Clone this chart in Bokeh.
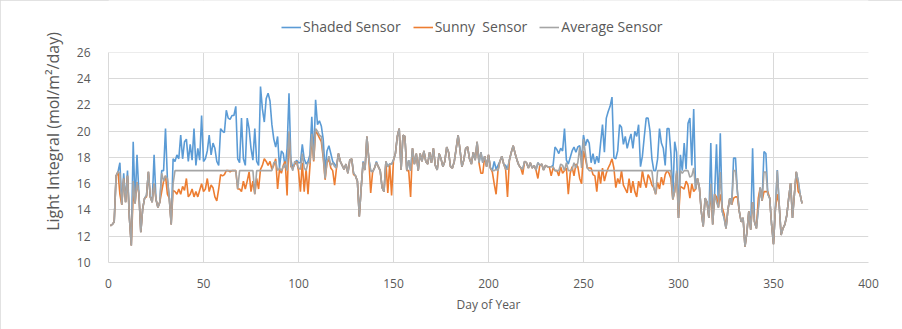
from bokeh.plotting import figure
from bokeh.models import Range1d, Legend, LegendItem, FixedTicker, BoxAnnotation
from bokeh.embed import file_html
from bokeh.resources import INLINE

days = list(range(1, 366))

average = [
    12.8, 12.9, 13.1, 16.6, 16.9, 16.8, 14.4, 16.4, 14.6, 16.6,
    13.4, 11.3, 16.2, 14.5, 16.1, 15.3, 12.3, 14.1, 14.9, 15.1,
    16.9, 15.0, 14.6, 16.0, 14.8, 14.2, 14.6, 16.8, 16.2, 16.6,
    16.4, 14.9, 12.9, 16.0, 17.0, 17.0, 17.0, 17.0, 17.0, 17.0,
    17.0, 17.0, 17.0, 17.0, 17.0, 17.0, 17.0, 17.0, 17.0, 17.0,
    17.0, 17.0, 17.0, 17.0, 17.0, 17.0, 17.0, 17.0, 17.0, 17.0,
    17.0, 17.0, 17.0, 17.0, 17.0, 17.0, 17.0, 15.6, 17.0, 17.0,
    17.0, 17.0, 17.0, 17.0, 17.0, 17.0, 15.2, 17.0, 17.0, 17.0,
    17.0, 17.0, 17.0, 17.0, 17.0, 17.0, 17.6, 17.7, 17.0, 17.2,
    17.0, 17.3, 17.5, 17.0, 20.0, 17.4, 17.0, 17.7, 17.6, 17.2,
    17.1, 18.3, 17.2, 17.0, 17.6, 17.6, 19.8, 17.8, 20.2, 20.0,
    19.7, 19.6, 18.2, 16.4, 17.7, 18.1, 17.4, 17.6, 17.3, 17.2,
    18.3, 17.7, 17.4, 17.1, 17.5, 16.8, 17.8, 17.9, 16.8, 16.6,
    16.2, 13.5, 15.7, 17.6, 17.05, 19.6, 17.9, 17.0, 16.9, 17.2,
    17.6, 17.3, 17.0, 15.7, 15.4, 17.7, 17.3, 17.5, 17.5, 17.8,
    18.3, 19.6, 20.2, 17.05, 19.7, 19.6, 17.0, 17.8, 17.0, 18.7,
    17.5, 18.3, 17.0, 18.3, 17.7, 18.5, 17.7, 17.5, 18.4, 17.6,
    18.7, 17.4, 17.05, 18.3, 17.9, 17.3, 17.7, 18.8, 18.4, 17.3,
    17.2, 17.7, 18.7, 19.7, 18.6, 17.3, 17.8, 18.7, 18.8, 17.9,
    17.5, 18.4, 17.8, 19.2, 17.6, 18.4, 17.6, 18.1, 17.3, 18.2,
    17.2, 17.0, 17.0, 17.1, 17.0, 17.7, 18.1, 17.5, 17.1, 17.1,
    17.8, 18.4, 18.9, 18.3, 17.8, 17.4, 17.2, 17.1, 17.7, 17.6,
    17.2, 17.6, 17.2, 17.4, 17.05, 17.6, 17.4, 17.5, 17.05, 17.4,
    17.3, 17.3, 17.3, 17.3, 17.0, 17.0, 17.0, 17.5, 17.4, 17.0,
    17.6, 17.0, 17.0, 17.1, 17.6, 17.2, 17.6, 18.8, 17.2, 19.4,
    18.3, 17.2, 17.0, 17.0, 17.0, 17.0, 17.0, 17.0, 17.0, 17.0,
    17.0, 17.0, 17.0, 17.0, 17.0, 17.0, 17.0, 17.0, 17.0, 17.0,
    17.0, 17.0, 17.0, 17.0, 17.0, 17.0, 17.0, 17.0, 17.0, 17.0,
    17.0, 17.0, 17.0, 17.0, 17.0, 17.0, 15.7, 15.2, 17.0, 17.0,
    17.0, 17.0, 17.0, 17.0, 17.0, 17.0, 14.8, 15.4, 17.0, 13.4,
    17.0, 16.8, 17.0, 17.0, 17.0, 16.5, 16.6, 17.2, 15.6, 16.4,
    15.7, 13.9, 12.75, 14.9, 14.6, 13.4, 16.0, 12.9, 15.2, 14.6,
    14.2, 16.9, 13.9, 13.4, 12.6, 14.0, 14.9, 14.4, 17.0, 17.0,
    15.4, 13.9, 13.1, 13.4, 11.2, 12.3, 13.9, 12.5, 14.6, 13.1,
    12.6, 14.1, 15.7, 14.7, 16.9, 16.9, 15.2, 14.9, 12.9, 11.4,
    14.1, 17.0, 14.4, 12.1, 12.6, 12.9, 13.6, 14.9, 16.05, 13.4,
    15.2, 16.9, 16.2, 15.2, 14.5,
]

shaded = [
    12.8, 12.9, 13.1, 16.6, 16.9, 17.6, 14.4, 16.8, 14.6, 17.0,
    13.4, 11.3, 19.2, 14.5, 18.2, 15.3, 12.3, 14.1, 14.9, 15.1,
    16.9, 15.0, 14.6, 18.2, 14.8, 14.2, 14.6, 17.0, 17.0, 20.2,
    16.4, 14.9, 12.9, 17.9, 17.7, 18.2, 17.9, 19.7, 17.9, 19.2,
    19.4, 17.7, 19.0, 17.8, 20.2, 17.4, 18.7, 17.8, 21.2, 17.7,
    17.9, 18.5, 19.7, 18.2, 19.1, 18.7, 17.7, 17.4, 20.2, 20.0,
    19.9, 21.6, 21.0, 20.9, 21.2, 21.2, 21.9, 17.9, 17.6, 21.0,
    17.9, 17.4, 21.0, 20.2, 18.7, 17.8, 20.2, 17.7, 17.4, 23.4,
    21.7, 20.7, 22.5, 22.9, 22.3, 20.5, 19.4, 18.8, 19.6, 17.2,
    18.5, 18.3, 17.2, 18.7, 22.9, 17.8, 17.2, 17.5, 17.8, 17.6,
    17.6, 19.0, 17.9, 17.5, 17.7, 18.2, 21.1, 18.0, 22.4, 20.5,
    20.8, 20.4, 19.4, 17.0, 18.5, 18.9, 18.3, 17.7, 17.5, 17.3,
    18.3, 17.7, 17.4, 17.1, 17.5, 16.8, 17.8, 17.9, 16.8, 16.6,
    16.2, 13.5, 15.7, 17.7, 17.05, 19.6, 17.9, 17.0, 16.9, 17.2,
    17.7, 17.3, 17.0, 15.7, 15.4, 17.7, 17.3, 17.5, 17.5, 17.8,
    18.3, 19.6, 20.2, 17.05, 19.7, 19.6, 17.0, 17.8, 17.0, 18.7,
    17.5, 18.3, 17.0, 18.3, 17.7, 18.5, 17.7, 17.5, 18.4, 17.6,
    18.7, 17.4, 17.05, 18.3, 17.9, 17.3, 17.7, 18.8, 18.4, 17.3,
    17.2, 17.7, 18.7, 19.7, 18.6, 17.3, 17.8, 18.7, 18.8, 17.9,
    17.5, 18.4, 17.8, 19.2, 17.6, 18.4, 17.6, 18.1, 17.3, 18.2,
    17.2, 17.0, 17.7, 17.1, 17.4, 17.7, 18.1, 17.5, 17.4, 17.1,
    17.8, 18.4, 18.9, 18.3, 17.8, 17.4, 17.2, 17.1, 17.7, 17.6,
    17.2, 17.6, 17.2, 17.4, 17.05, 17.6, 17.4, 17.5, 17.05, 17.4,
    17.3, 17.3, 17.3, 17.4, 18.8, 18.6, 18.3, 18.7, 18.5, 20.2,
    17.8, 17.5, 18.0, 18.5, 18.8, 18.4, 18.8, 18.9, 17.9, 19.7,
    18.9, 19.4, 19.1, 17.6, 18.3, 17.5, 18.1, 17.6, 19.1, 20.5,
    18.4, 21.0, 21.5, 21.9, 22.6, 18.0, 17.9, 18.5, 20.5, 20.3,
    19.0, 19.6, 18.7, 19.3, 19.8, 18.7, 20.0, 19.6, 20.5, 17.3,
    18.1, 19.6, 21.0, 21.0, 20.0, 17.9, 17.0, 17.0, 17.9, 20.2,
    19.1, 18.7, 17.4, 20.2, 20.2, 18.3, 15.0, 19.2, 18.4, 13.4,
    18.2, 17.0, 19.1, 17.1, 20.6, 21.0, 17.4, 21.7, 15.6, 16.4,
    15.7, 13.9, 12.75, 14.9, 14.6, 13.4, 19.1, 12.9, 15.2, 19.0,
    14.2, 19.85, 13.9, 13.4, 12.6, 14.0, 14.9, 14.4, 17.95, 17.95,
    15.4, 13.9, 13.1, 13.4, 11.2, 12.3, 13.9, 12.5, 18.7, 13.1,
    12.6, 14.1, 15.7, 14.7, 18.45, 18.3, 15.2, 14.9, 12.9, 11.4,
    14.1, 17.05, 14.4, 12.1, 12.6, 12.9, 13.6, 14.9, 16.05, 13.4,
    15.2, 16.9, 16.2, 15.2, 14.5,
]

sunny = [
    12.8, 12.9, 13.1, 16.6, 16.9, 15.2, 14.4, 16.4, 14.6, 16.6,
    13.4, 11.3, 15.2, 14.5, 16.1, 15.2, 12.3, 14.1, 14.9, 15.0,
    16.9, 15.0, 14.6, 16.0, 14.8, 14.2, 14.6, 15.4, 16.2, 16.6,
    15.2, 14.9, 12.9, 15.5, 15.4, 15.2, 15.6, 15.2, 15.8, 15.5,
    16.4, 15.0, 15.2, 15.6, 15.0, 15.4, 15.0, 15.5, 16.0, 15.4,
    15.6, 16.4, 15.4, 15.9, 15.7, 15.0, 14.7, 15.6, 16.7, 16.6,
    16.7, 17.0, 17.0, 16.9, 17.0, 17.0, 17.0, 15.6, 15.6, 15.4,
    16.2, 15.6, 16.2, 16.9, 15.4, 16.2, 15.2, 16.4, 15.6, 17.1,
    17.4, 17.9, 17.7, 17.4, 17.7, 17.1, 17.4, 17.9, 15.6, 17.1,
    16.8, 17.4, 17.7, 15.1, 19.8, 17.3, 17.2, 17.5, 17.7, 17.0,
    15.4, 17.6, 15.4, 17.1, 15.2, 17.3, 19.5, 17.7, 20.0, 19.8,
    19.5, 19.2, 18.0, 16.3, 17.6, 17.9, 17.2, 17.0, 15.9, 17.2,
    18.3, 17.7, 17.4, 17.1, 17.5, 16.8, 17.8, 17.9, 16.7, 16.6,
    16.2, 13.5, 15.7, 17.6, 17.05, 19.6, 17.9, 15.3, 16.9, 17.2,
    17.6, 17.3, 17.0, 15.7, 15.4, 17.7, 15.3, 17.5, 15.1, 17.8,
    18.3, 19.6, 20.2, 17.05, 19.7, 19.6, 17.0, 17.0, 15.0, 18.7,
    17.5, 18.3, 17.0, 18.3, 17.7, 18.5, 17.7, 17.5, 18.4, 17.6,
    18.7, 17.4, 17.05, 18.3, 17.9, 17.3, 17.7, 18.8, 18.4, 17.3,
    17.2, 17.7, 18.7, 19.7, 18.6, 17.3, 17.8, 18.7, 18.8, 17.9,
    17.5, 18.4, 17.8, 19.2, 17.6, 16.8, 16.8, 18.1, 17.3, 18.2,
    17.2, 16.9, 16.0, 15.2, 17.0, 17.7, 18.1, 17.5, 17.1, 15.0,
    17.8, 18.4, 18.9, 18.3, 17.8, 17.4, 17.2, 16.7, 17.7, 17.6,
    17.2, 17.6, 17.2, 17.4, 17.05, 16.4, 17.4, 17.5, 17.05, 17.4,
    17.3, 17.3, 16.6, 17.2, 17.0, 17.0, 16.6, 17.3, 16.8, 17.0,
    17.2, 15.2, 16.8, 17.3, 16.6, 17.5, 17.3, 16.4, 16.0, 18.5,
    17.9, 17.2, 17.2, 17.2, 16.7, 16.6, 15.4, 17.0, 16.0, 17.2,
    16.2, 16.8, 17.2, 17.5, 17.9, 17.2, 15.7, 16.4, 16.0, 17.0,
    15.9, 15.6, 15.3, 16.4, 15.3, 16.2, 15.4, 15.0, 16.2, 15.7,
    17.0, 16.2, 15.7, 16.7, 16.4, 15.9, 15.7, 15.2, 16.1, 15.6,
    16.5, 15.9, 16.7, 17.0, 16.8, 16.4, 14.8, 15.4, 16.8, 13.4,
    15.8, 15.7, 15.6, 16.2, 15.9, 14.9, 16.0, 15.4, 15.6, 16.4,
    15.7, 13.9, 12.75, 14.9, 14.6, 13.4, 15.5, 12.9, 15.2, 15.0,
    14.2, 15.2, 14.2, 13.7, 12.6, 14.0, 14.9, 14.4, 14.9, 15.0,
    15.0, 13.9, 13.1, 13.4, 11.2, 12.3, 13.9, 12.5, 14.6, 13.1,
    12.6, 14.9, 15.7, 14.7, 15.4, 15.4, 15.4, 14.9, 12.9, 11.4,
    14.1, 15.2, 14.4, 12.1, 12.6, 12.9, 13.6, 14.9, 16.05, 13.4,
    15.2, 16.9, 15.4, 15.2, 14.5,
]

x_ticks = [0, 50, 100, 150, 200, 250, 300, 350, 400]
y_ticks = [10, 12, 14, 16, 18, 20, 22, 24, 26]

FONT = "Open Sans"
TXT = "#595959"
GRID = "#d9d9d9"

# frame spans to the top of the canvas so the legend (drawn inside the frame) is not clipped;
# the value axis itself is bounded to 10..26 and the area above 26 is masked white.
p = figure(width=902, height=329, output_backend="svg", toolbar_location=None,
           x_range=Range1d(0, 400), y_range=Range1d(10, 29.96),
           min_border_left=108, min_border_right=34, min_border_top=0, min_border_bottom=67,
           background_fill_color="white", border_fill_color="white")
p.outline_line_color = None
p.styles = {"outline": "1px solid #d9d9d9", "outline-offset": "-1px"}

p.xaxis.ticker = FixedTicker(ticks=x_ticks)
p.yaxis.ticker = FixedTicker(ticks=y_ticks)
p.yaxis.bounds = (10, 26)
for ax in (p.xaxis, p.yaxis):
    ax.axis_line_color = GRID
    ax.major_tick_line_color = None
    ax.minor_tick_line_color = None
    ax.major_label_text_font = FONT
    ax.major_label_text_color = TXT
    ax.major_label_text_font_size = "12px"
    ax.axis_label_text_font = FONT
    ax.axis_label_text_color = TXT
    ax.axis_label_text_font_style = "normal"

p.xaxis.axis_label = "Day of Year"
p.xaxis.axis_label_text_font_size = "12px"
p.xaxis.major_label_standoff = 10
p.xaxis.axis_label_standoff = 5

p.yaxis.axis_label = "Light Integral (mol/m\u00b2/day)"
p.yaxis.axis_label_text_font_size = "16px"
p.yaxis.major_label_standoff = 12
p.yaxis.axis_label_standoff = 10

p.xgrid.grid_line_color = GRID
p.ygrid.grid_line_color = GRID

mask = BoxAnnotation(bottom=26, fill_color="white", fill_alpha=1.0, line_color=None, level="underlay")
p.add_layout(mask)

r_b = p.line(days, shaded, line_color="#5B9BD5", line_width=1.6)
r_o = p.line(days, sunny, line_color="#ED7D31", line_width=1.6)
r_g = p.line(days, average, line_color="#A5A5A5", line_width=1.6)

legend = Legend(items=[
    LegendItem(label="Shaded Sensor", renderers=[r_b]),
    LegendItem(label="Sunny  Sensor", renderers=[r_o]),
    LegendItem(label="Average Sensor", renderers=[r_g]),
], orientation="horizontal", location=(173, 226),
    label_text_font=FONT, label_text_color=TXT, label_text_font_size="14px",
    glyph_width=20, glyph_height=18, label_height=18, label_standoff=2,
    spacing=12, padding=0, margin=0,
    border_line_color=None, background_fill_alpha=0)
p.add_layout(legend, "center")

open("out.html", "w").write(file_html(p, INLINE))
